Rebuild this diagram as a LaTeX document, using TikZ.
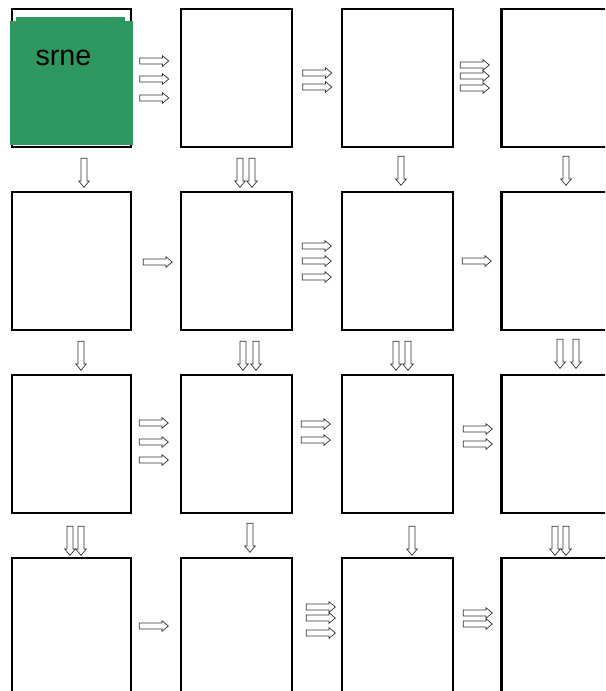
\documentclass[tikz,border=0pt]{standalone}
\usepackage{fontspec}
\setmainfont{Liberation Sans}
\usetikzlibrary{shapes,arrows,positioning}
\definecolor{tilegreen}{RGB}{47,152,96}
\tikzstyle{cell} = [rectangle, draw=black, line width=2.1pt, fill=white, outer sep=0pt, inner sep=0pt, minimum width=3.33cm, minimum height=4.14cm]
\tikzstyle{flow} = [single arrow, draw=black!80, line width=0.6pt, fill=white, inner xsep=0pt, inner ysep=0.08cm, minimum height=0.87cm, single arrow head extend=0.07cm, single arrow tip angle=80]
\tikzstyle{flowdown} = [flow, rotate=-90]

\begin{document}
\begin{tikzpicture}[x=0.03cm, y=-0.03cm, node distance=1.35cm and 1.5cm]
\clip (0,0) rectangle (605,691);

% Row 1
\node[cell, minimum width=3.57cm] (b11) at (71.5,78) {};
\node[cell, right=of b11] (b12) {};
\node[cell, right=of b12] (b13) {};
\node[cell, right=1.45cm of b13] (b14) {};

% Row 2
\node[cell, minimum width=3.57cm, below=of b11] (b21) {};
\node[cell, right=of b21] (b22) {};
\node[cell, right=of b22] (b23) {};
\node[cell, right=1.45cm of b23] (b24) {};

% Row 3
\node[cell, minimum width=3.57cm, below=of b21] (b31) {};
\node[cell, right=of b31] (b32) {};
\node[cell, right=of b32] (b33) {};
\node[cell, right=1.45cm of b33] (b34) {};

% Row 4
\node[cell, minimum width=3.57cm, below=of b31] (b41) {};
\node[cell, right=of b41] (b42) {};
\node[cell, right=of b42] (b43) {};
\node[cell, right=1.45cm of b43] (b44) {};

% Green tile on the first cell
\node[fill=tilegreen, inner sep=0pt, outer sep=0pt, minimum width=3.69cm, minimum height=3.72cm] (tile) at (71.5,83) {};
\fill[tilegreen] (16,17) rectangle (125,22);
\node[font=\fontsize{24.5}{28}\selectfont] (tilelabel) at (63.5,58) {srne};

% Row 1 flows to the right
\node[flow] (h11a) at (152.5,61) {};
\node[flow] (h11b) at (152.5,79) {};
\node[flow] (h11c) at (152.5,98) {};
\node[flow] (h12a) at (315.5,73) {};
\node[flow] (h12b) at (315.5,87) {};
\node[flow] (h13a) at (473,65) {};
\node[flow] (h13b) at (473,76) {};
\node[flow] (h13c) at (473,88) {};

% Row 2 flows to the right
\node[flow] (h21a) at (156,262) {};
\node[flow] (h22a) at (315,246) {};
\node[flow] (h22b) at (315,261) {};
\node[flow] (h22c) at (315,277) {};
\node[flow] (h23a) at (475,261) {};

% Row 3 flows to the right
\node[flow] (h31a) at (152,423) {};
\node[flow] (h31b) at (152,442) {};
\node[flow] (h31c) at (152,460) {};
\node[flow] (h32a) at (314,424) {};
\node[flow] (h32b) at (314,440) {};
\node[flow] (h33a) at (476,429) {};
\node[flow] (h33b) at (476,444) {};

% Row 4 flows to the right
\node[flow] (h41a) at (152,626) {};
\node[flow] (h42a) at (319,607) {};
\node[flow] (h42b) at (319,618) {};
\node[flow] (h42c) at (319,633) {};
\node[flow] (h43a) at (476,613) {};
\node[flow] (h43b) at (476,624) {};

% Flows down from row 1
\node[flowdown] (v11a) at (84,171) {};
\node[flowdown] (v12a) at (240,171) {};
\node[flowdown] (v12b) at (252,171) {};
\node[flowdown] (v13a) at (401,169) {};
\node[flowdown] (v14a) at (566,169) {};

% Flows down from row 2
\node[flowdown] (v21a) at (81,354) {};
\node[flowdown] (v22a) at (243,354) {};
\node[flowdown] (v22b) at (256,354) {};
\node[flowdown] (v23a) at (396,354) {};
\node[flowdown] (v23b) at (408,354) {};
\node[flowdown] (v24a) at (560,352) {};
\node[flowdown] (v24b) at (576,352) {};

% Flows down from row 3
\node[flowdown] (v31a) at (70,539) {};
\node[flowdown] (v31b) at (81,539) {};
\node[flowdown] (v32a) at (250,536) {};
\node[flowdown] (v33a) at (412,539) {};
\node[flowdown] (v34a) at (555,539) {};
\node[flowdown] (v34b) at (566,539) {};

\end{tikzpicture}
\end{document}
